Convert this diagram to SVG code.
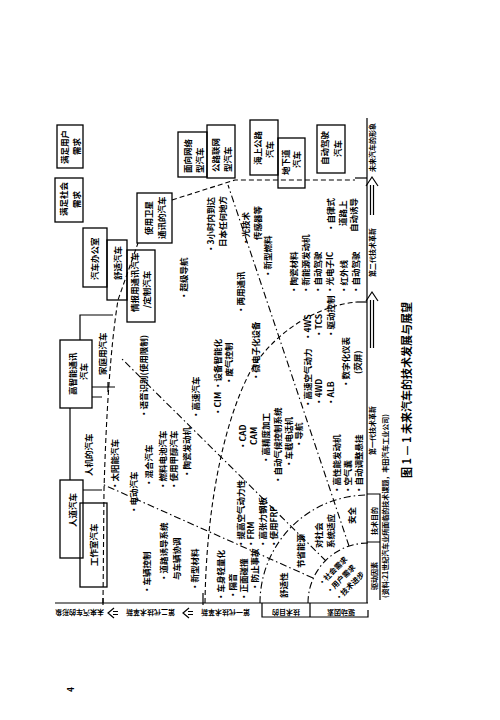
<svg xmlns="http://www.w3.org/2000/svg" width="500" height="720" viewBox="0 0 500 720">
<style>
text{font-family:"Noto Sans CJK SC","Noto Sans",sans-serif;font-weight:bold;fill:#000;dominant-baseline:central}
.t{font-size:8.5px}
.s{font-size:7px}
.d{font-size:7.5px}
.ti{font-size:11px}
.box{fill:none;stroke:#000;stroke-width:1.3}
.ln{fill:none;stroke:#000;stroke-width:1.2}
.da{fill:none;stroke:#000;stroke-width:1.1;stroke-dasharray:5 3}
.dd{fill:none;stroke:#000;stroke-width:1.1;stroke-dasharray:7 3 1.5 3}
</style>
<rect width="500" height="720" fill="#fff"/>

<g id="connectors">
  <path class="ln" d="M55,603 H368 M367,118 V603"/>
  <path class="ln" d="M262,603 V617 H368 V610 M310,603 V617"/>
  <path class="ln" d="M367,494 H380 V600 M367,542 H380"/>
  <path class="dd" d="M308,603 A60,60 0 0 1 368,543"/>
  <path class="dd" d="M260,603 A108,108 0 0 1 368,495"/>
  <path class="dd" d="M313,578 L102,484"/>
  <path class="dd" d="M326,561 L120,357"/>
  <path class="dd" d="M349,546 L228,185"/>
  <path class="da" d="M205,603 C206,520 220,430 250,372 C275,330 320,305 357,302"/>
  <path class="ln" d="M357,302 H367"/>
  <path class="da" d="M103,603 L104,490 C106,420 110,350 118,300 L138,243"/>
  <path class="da" d="M172,200 L235,180 H355"/>
  <path class="ln" d="M355,178 H367"/>
  <path class="ln" d="M80,340 V315 H113 M92,387 H115 M108,382 V392 M92,397 H102 M70,408 V480 M83,490 H102"/>
  <path class="ln" d="M103,598 V605 M203,593 V605"/>
  <path class="ln" d="M370.5,215 V185 M373.5,215 V185 M366,186 L372,177 L378,186"/>
  <path class="ln" d="M370.5,348 V300 M373.5,348 V300 M366,301 L372,292 L378,301"/>
  <path class="ln" d="M118,611.5 H113 M118,614.5 H113 M114,608 L108,613 L114,618"/>
  <path class="ln" d="M193,611.5 H188 M193,614.5 H188 M189,608 L183,613 L189,618"/>
</g>

<g id="n_user"><rect class="box" x="57" y="125" width="26" height="43"/>
  <text class="t" transform="translate(64,164) rotate(-90)">满足用户</text>
  <text class="t" transform="translate(76,155) rotate(-90)">需求</text></g>
<g id="n_social"><rect class="box" x="55" y="178" width="28" height="44"/>
  <text class="t" transform="translate(63,216) rotate(-90)">满足社会</text>
  <text class="t" transform="translate(76,208) rotate(-90)">需求</text></g>
<g id="n_office"><rect class="box" x="83" y="228" width="24" height="59"/>
  <text class="t" transform="translate(94,280) rotate(-90)">汽车办公室</text></g>
<g id="n_comfort"><rect class="box" x="107" y="240" width="20" height="60"/>
  <text class="t" transform="translate(117,280) rotate(-90)">舒适汽车</text></g>
<g id="n_info"><rect class="box" x="127" y="250" width="28" height="72"/>
  <text class="t" transform="translate(134,312) rotate(-90)">情报用通讯汽车</text>
  <text class="t" transform="translate(146,308) rotate(-90)">/定制汽车</text></g>
<g id="n_sat"><rect class="box" x="137" y="193" width="35" height="50"/>
  <text class="t" transform="translate(148,235) rotate(-90)">使用卫星</text>
  <text class="t" transform="translate(161,239) rotate(-90)">通讯的汽车</text></g>
<g id="n_net"><rect class="box" x="178" y="132" width="29" height="45"/>
  <text class="t" transform="translate(187,173) rotate(-90)">面向网络</text>
  <text class="t" transform="translate(199,173) rotate(-90)">型汽车</text></g>
<g id="n_road"><rect class="box" x="207" y="125" width="28" height="53"/>
  <text class="t" transform="translate(215,172) rotate(-90)">公路联网</text>
  <text class="t" transform="translate(227,172) rotate(-90)">型汽车</text></g>
<g id="n_sea"><rect class="box" x="250" y="120" width="28" height="55"/>
  <text class="t" transform="translate(257,165) rotate(-90)">海上公路</text>
  <text class="t" transform="translate(269,158) rotate(-90)">汽车</text></g>
<g id="n_under"><rect class="box" x="278" y="138" width="27" height="50"/>
  <text class="t" transform="translate(285,175) rotate(-90)">地下道</text>
  <text class="t" transform="translate(296,168) rotate(-90)">汽车</text></g>
<g id="n_auto"><rect class="box" x="317" y="125" width="28" height="48"/>
  <text class="t" transform="translate(324,165) rotate(-90)">自动驾驶</text>
  <text class="t" transform="translate(337,157) rotate(-90)">汽车</text></g>
<g id="n_intel"><rect class="box" x="60" y="340" width="32" height="68"/>
  <text class="t" transform="translate(72,395) rotate(-90)">高智能通讯</text>
  <text class="t" transform="translate(83,380) rotate(-90)">汽车</text></g>
<g id="n_home"><text class="t" transform="translate(102,375) rotate(-90)">家庭用汽车</text></g>
<g id="n_man"><text class="t" transform="translate(88,476) rotate(-90)">人机的汽车</text></g>
<g id="n_human"><rect class="box" x="60" y="480" width="23" height="78"/>
  <text class="t" transform="translate(72,527) rotate(-90)">人道汽车</text></g>
<g id="n_studio"><rect class="box" x="80" y="503" width="27" height="84"/>
  <text class="t" transform="translate(93,566) rotate(-90)">工作室汽车</text></g>

<g id="second-gen">
  <text class="t" transform="translate(210,253) rotate(-90)">·3小时内到达</text>
  <text class="t" transform="translate(222,247) rotate(-90)">日本任何地方</text>
  <text class="t" transform="translate(183,300) rotate(-90)">·超级导航</text>
  <text class="t" transform="translate(143,418) rotate(-90)">·语音识别(使用限制)</text>
  <text class="t" transform="translate(195,419) rotate(-90)">·高速汽车</text>
  <text class="t" transform="translate(114,490) rotate(-90)">·太阳能汽车</text>
  <text class="t" transform="translate(148,487) rotate(-90)">·混合汽车</text>
  <text class="t" transform="translate(162,490) rotate(-90)">·燃料电池汽车</text>
  <text class="t" transform="translate(173,490) rotate(-90)">·使用甲醇汽车</text>
  <text class="t" transform="translate(186,478) rotate(-90)">·陶瓷发动机</text>
  <text class="t" transform="translate(133,514) rotate(-90)">·电动汽车</text>
  <text class="t" transform="translate(146,594) rotate(-90)">·车辆控制</text>
  <text class="t" transform="translate(163,582) rotate(-90)">·道路诱导系统</text>
  <text class="t" transform="translate(176,580) rotate(-90)">与车辆协调</text>
  <text class="t" transform="translate(194,591) rotate(-90)">·新型材料</text>
  <text class="t" transform="translate(245,246) rotate(-90)">·光技术</text>
  <text class="t" transform="translate(257,240) rotate(-90)">传感器等</text>
  <text class="t" transform="translate(267,278) rotate(-90)">·新型燃料</text>
  <text class="t" transform="translate(240,314) rotate(-90)">·两用通讯</text>
  <text class="t" transform="translate(293,294) rotate(-90)">·陶瓷材料</text>
  <text class="t" transform="translate(305,294) rotate(-90)">·新能源发动机</text>
  <text class="t" transform="translate(317,294) rotate(-90)">·自动驾驶</text>
  <text class="t" transform="translate(329,294) rotate(-90)">·光电子IC</text>
  <text class="t" transform="translate(343,294) rotate(-90)">·红外线</text>
  <text class="t" transform="translate(355,294) rotate(-90)">·自动驾驶</text>
  <text class="t" transform="translate(330,232) rotate(-90)">·自律式</text>
  <text class="t" transform="translate(342,226) rotate(-90)">道路上</text>
  <text class="t" transform="translate(353,232) rotate(-90)">自动诱导</text>
</g>

<g id="first-gen">
  <text class="t" transform="translate(307,341) rotate(-90)">·4WS</text>
  <text class="t" transform="translate(318,338) rotate(-90)">·TCS</text>
  <text class="t" transform="translate(330,338) rotate(-90)">·驱动控制</text>
  <text class="t" transform="translate(307,408) rotate(-90)">·高速空气动力</text>
  <text class="t" transform="translate(318,406) rotate(-90)">·4WD</text>
  <text class="t" transform="translate(330,406) rotate(-90)">·ALB</text>
  <text class="t" transform="translate(345,388) rotate(-90)">·数字化仪表</text>
  <text class="t" transform="translate(357,374) rotate(-90)">(荧屏)</text>
  <text class="t" transform="translate(336,494) rotate(-90)">·高性能发动机</text>
  <text class="t" transform="translate(347,494) rotate(-90)">·空气囊</text>
  <text class="t" transform="translate(358,494) rotate(-90)">·自动调整悬挂</text>
  <text class="t" transform="translate(217,416) rotate(-90)">·CIM ·设备智能化</text>
  <text class="t" transform="translate(228,385) rotate(-90)">·废气控制</text>
  <text class="t" transform="translate(255,381) rotate(-90)">·微电子化设备</text>
  <text class="t" transform="translate(242,450) rotate(-90)">·CAD</text>
  <text class="t" transform="translate(253,445) rotate(-90)">CAM</text>
  <text class="t" transform="translate(265,464) rotate(-90)">·高精度加工</text>
  <text class="t" transform="translate(277,484) rotate(-90)">·自动气候控制系统</text>
  <text class="t" transform="translate(288,468) rotate(-90)">·车载电话机</text>
  <text class="t" transform="translate(298,448) rotate(-90)">·导航</text>
  <text class="t" transform="translate(220,601) rotate(-90)">·车身轻量化</text>
  <text class="t" transform="translate(232,599) rotate(-90)">·隔音</text>
  <text class="t" transform="translate(243,601) rotate(-90)">·正面碰撞</text>
  <text class="t" transform="translate(254,591) rotate(-90)">·防止事故</text>
  <text class="t" transform="translate(240,548) rotate(-90)">·提高空气动力性</text>
  <text class="t" transform="translate(250,548) rotate(-90)">·FRM</text>
  <text class="t" transform="translate(262,548) rotate(-90)">·高张力钢板</text>
  <text class="t" transform="translate(273,548) rotate(-90)">·使用FRP</text>
</g>

<g id="aims">
  <text class="t" transform="translate(351,524) rotate(-90)">安全</text>
  <text class="t" transform="translate(318,548) rotate(-90)">对社会</text>
  <text class="t" transform="translate(330,548) rotate(-90)">系统适应</text>
  <text class="t" transform="translate(300,568) rotate(-90)">节省能源</text>
  <text class="t" transform="translate(283,598) rotate(-90)">舒适性</text>
</g>

<g id="drivers">
  <text class="d" transform="translate(319,584) rotate(-45)">·社会需求</text>
  <text class="d" transform="translate(327,592) rotate(-45)">·用户需求</text>
  <text class="d" transform="translate(336,599) rotate(-45)">·技术进步</text>
</g>

<g id="axis-labels">
  <text class="s" transform="translate(374,590) rotate(-90)">驱动因素</text>
  <text class="s" transform="translate(374,535) rotate(-90)">技术目的</text>
  <text class="s" transform="translate(372,455) rotate(-90)">第一代技术革新</text>
  <text class="s" transform="translate(372,277) rotate(-90)">第二代技术革新</text>
  <text class="s" transform="translate(372,172) rotate(-90)">未来汽车的形象</text>
  <text class="s" transform="translate(355,613) rotate(180)">驱动因素</text>
  <text class="s" transform="translate(300,613) rotate(180)">技术目的</text>
  <text class="s" transform="translate(250,613) rotate(180)">第一代技术革新</text>
  <text class="s" transform="translate(175,613) rotate(180)">第二代技术革新</text>
  <text class="s" transform="translate(104,613) rotate(180)">未来汽车的形象</text>
</g>

<g id="caption">
  <text class="s" transform="translate(385,598) rotate(-90)">(资料:21世纪汽车业所面临的技术课题，丰田汽车工业公司)</text>
  <text class="ti" transform="translate(406,478) rotate(-90)">图 1 — 1  未来汽车的技术发展与展望</text>
  <text class="t" transform="translate(70,692) rotate(-90)">4</text>
</g>
</svg>
